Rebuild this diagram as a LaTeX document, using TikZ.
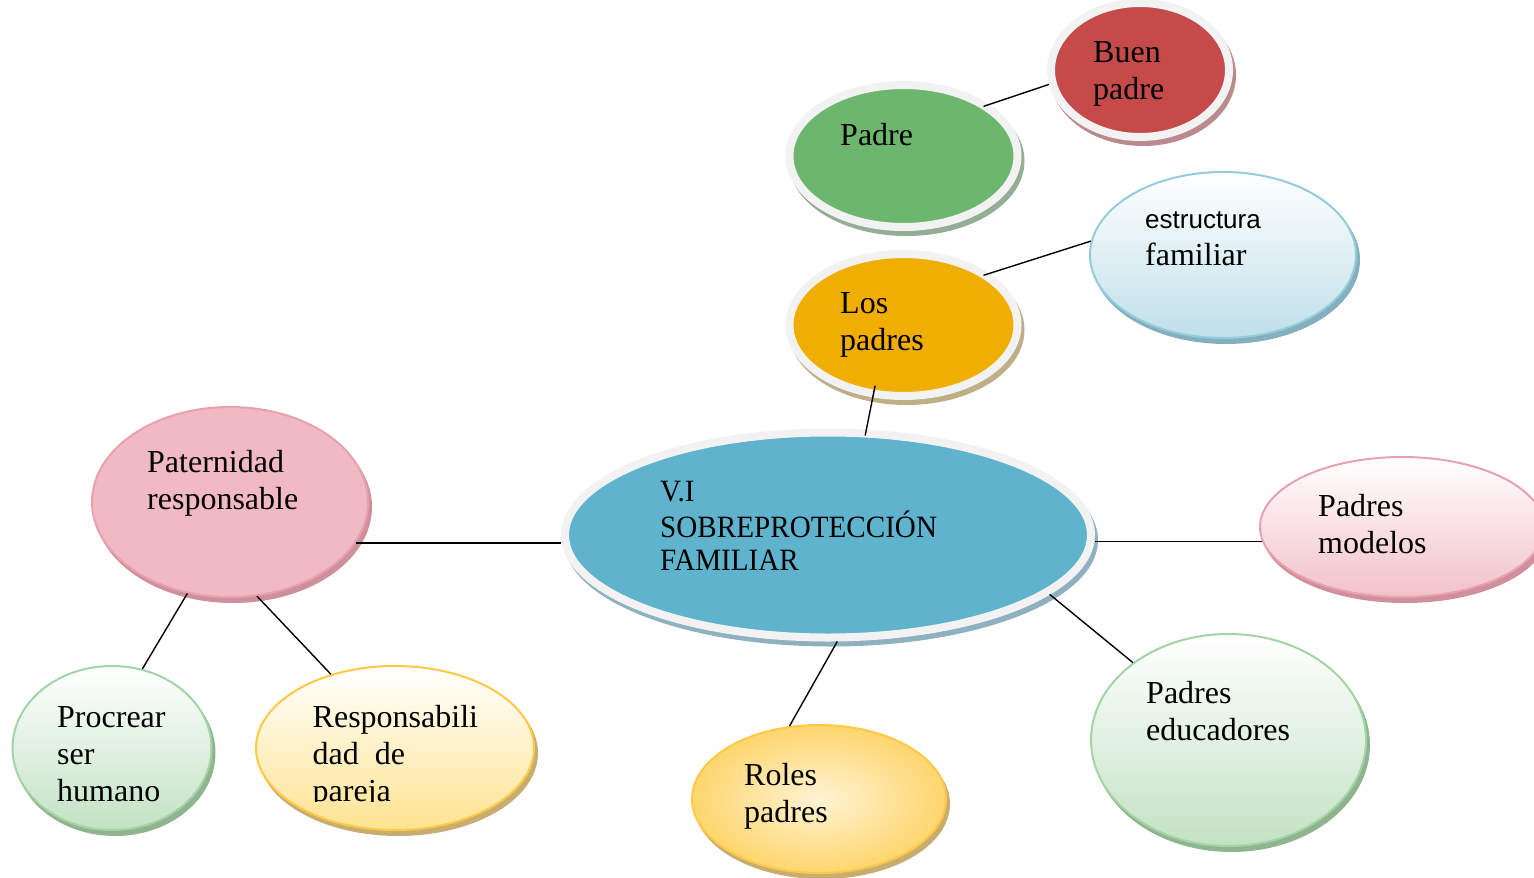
\documentclass[tikz,border=0pt]{standalone}
\usetikzlibrary{shapes.geometric}
\usepackage{fontspec}
\setmainfont{Liberation Serif}
\newfontfamily\sansf{Liberation Sans}
\newfontfamily\cenfont[FakeStretch=0.94]{Liberation Serif}
\newcommand\mlines[1]{\begin{tabular}[t]{@{}l@{}}#1\end{tabular}}
\definecolor{rimc}{HTML}{F2F2F2}
\definecolor{redf}{HTML}{C44B4A}
\definecolor{reds}{HTML}{BB8A8C}
\definecolor{grnf}{HTML}{6CB76D}
\definecolor{grns}{HTML}{93AE94}
\definecolor{orgf}{HTML}{F0AE00}
\definecolor{orgs}{HTML}{BEAF86}
\definecolor{bluf}{HTML}{5FB3CC}
\definecolor{blus}{HTML}{8FB0BF}
\definecolor{lbB}{HTML}{93CDDD}
\definecolor{lbF}{HTML}{BFE0EA}
\definecolor{lbS}{HTML}{86AFBD}
\definecolor{pkB}{HTML}{E8A1AE}
\definecolor{pkF}{HTML}{F2C1CA}
\definecolor{pkL}{HTML}{FCE6EA}
\definecolor{pkD}{HTML}{F1B9C3}
\definecolor{pkS}{HTML}{CF8F9B}
\definecolor{gnB}{HTML}{A4D3A5}
\definecolor{gnF}{HTML}{C3E2C4}
\definecolor{gnS}{HTML}{8FB590}
\definecolor{ylB}{HTML}{FFC945}
\definecolor{ylF}{HTML}{FFE391}
\definecolor{ylL}{HTML}{FFF3D4}
\definecolor{ylO}{HTML}{FFD66E}
\definecolor{ylS}{HTML}{C8AD72}
\tikzset{
  oval/.style={ellipse, inner sep=0pt},
  rimmed/.style 2 args={oval, fill=#1, draw=rimc, line width=8pt,
    preaction={draw=#2, fill=#2, line width=8pt, transform canvas={shift={(3pt,-5pt)}}}},
  soft/.style 2 args={oval, draw=#1, line width=2pt,
    preaction={draw=#2, fill=#2, line width=2pt, transform canvas={shift={(3pt,-5pt)}}}},
  txt/.style={anchor=base west, inner sep=0pt, font=\fontsize{32}{37}\selectfont},
  link/.style={draw=black, line width=1.4pt}
}
\begin{document}
\begin{tikzpicture}[x=1pt,y=-1pt]
\useasboundingbox (0,0) rectangle (1534,878);

% nodes (ellipses)
\node[rimmed={redf}{reds}, minimum width=178, minimum height=134] (bp) at (1140,70) {};
\node[rimmed={grnf}{grns}, minimum width=228, minimum height=142] (pd) at (903.5,156) {};
\node[rimmed={orgf}{orgs}, minimum width=228, minimum height=142] (lp) at (903.5,325) {};
\node[soft={lbB}{lbS}, top color=white, bottom color=lbF, minimum width=266, minimum height=166] (es) at (1223,255) {};
\node[rimmed={bluf}{blus}, minimum width=526, minimum height=205] (cen) at (828,535) {};
\node[soft={pkB}{pkS}, left color=pkD, middle color=pkL, right color=pkD, shading angle=135, minimum width=276, minimum height=190] (pat) at (230,502) {};
\node[soft={pkB}{pkS}, top color=white, bottom color=pkF, minimum width=284, minimum height=140] (pm) at (1402,527) {};
\node[soft={gnB}{gnS}, top color=white, bottom color=gnF, minimum width=199, minimum height=164] (pc) at (112,748) {};
\node[soft={ylB}{ylS}, top color=white, bottom color=ylF, minimum width=278, minimum height=164] (rs) at (395,748) {};
\node[soft={ylB}{ylS}, inner color=ylL, outer color=ylO, minimum width=254, minimum height=148] (rp) at (819,799) {};
\node[soft={gnB}{gnS}, top color=white, bottom color=gnF, minimum width=275, minimum height=212] (pe) at (1228.5,740) {};

% texts
\node[txt] (tbp) at (1093,62) {\mlines{Buen\\padre}};
\node[txt] (tpd) at (840,145) {Padre};
\node[txt] (tlp) at (840,313) {\mlines{Los\\padres}};
\node[txt] (tes) at (1145,228) {\mlines{{\sansf\fontsize{26}{37}\selectfont estructura}\\familiar}};
\node[anchor=base west, inner sep=0pt, font=\cenfont\fontsize{31}{33}\selectfont] (tcen) at (660,501) {\mlines{V.I\\SOBREPROTECCIÓN\\FAMILIAR}};
\node[txt] (tpat) at (147,472) {\mlines{Paternidad\\responsable}};
\node[txt] (tpm) at (1318,516) {\mlines{Padres\\modelos}};
\node[txt] (tpc) at (57,727) {\mlines{Procrear\\ser\\humano}};
\begin{scope}
  \clip (300,690) rectangle (520,801.5);
  \node[txt] (trs) at (312.5,727) {\mlines{Responsabili\\dad\ \ de\\pareja}};
\end{scope}
\node[txt] (trp) at (744,785) {\mlines{Roles\\padres}};
\node[txt] (tpe) at (1146,703) {\mlines{Padres\\educadores}};

% connectors
\draw[link, shorten <=-6pt] (pd.31) -- (bp.189);
\draw[link, shorten <=-6pt] (lp.31) -- (es.174);
\draw[link, shorten <=-12pt, shorten >=-6pt] (lp.247) -- (cen.70);
\draw[link] (pat.-18) -- (pat.-18 -| cen.west);
\draw[link] (pm.186) -- (pm.186 -| cen.east);
\draw[link] (cen.-15) -- (pe.141);
\draw[link] (cen.-85) -- (rp.112);
\draw[link] (pat.245) -- (pc.69);
\draw[link] (pat.286) -- (rs.131);
\end{tikzpicture}
\end{document}
